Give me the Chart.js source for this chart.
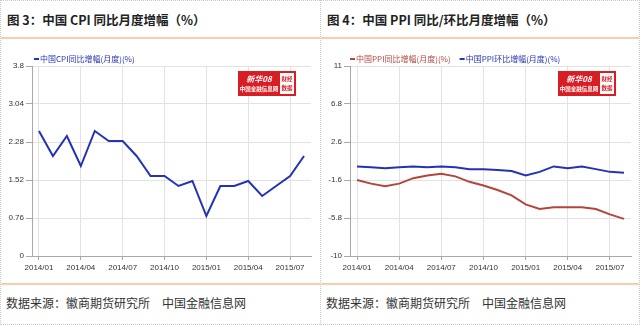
<!DOCTYPE html>
<html>
<head>
<meta charset="utf-8">
<script src="https://cdn.jsdelivr.net/npm/chart.js@4.4.1/dist/chart.umd.min.js"></script>
<style>
  html, body { margin: 0; padding: 0; background: #fff; }
  body { width: 640px; height: 325px; position: relative; overflow: hidden;
         font-family: "Noto Sans CJK SC", "Noto Sans", sans-serif; }
  .panel { position: absolute; top: 0; width: 320px; height: 325px;
           box-sizing: border-box; border: 1px dotted #c9c9c9; }
  #p1 { left: 0; border-right: none; }
  #p2 { left: 320px; }
  .title { position: absolute; left: 6px; top: 11px; font-size: 12.5px; font-weight: bold;
           color: #222; line-height: 16px; white-space: nowrap; }
  .rule { position: absolute; left: 0; right: 0; height: 2px; background: #f8cdaa; }
  .rule.top { top: 36px; }
  .rule.bottom { top: 282px; }
  .src { position: absolute; left: 5px; top: 294px; font-size: 12px; color: #333;
         line-height: 16px; white-space: nowrap; }
  canvas { position: absolute; left: 0; top: 39px; }
</style>
</head>
<body>
<div class="panel" id="p1">
  <div class="title">图 3：中国 CPI 同比月度增幅（%）</div>
  <div class="rule top"></div>
  <canvas id="c1" width="319" height="243"></canvas>
  <div class="rule bottom"></div>
  <div class="src">数据来源：徽商期货研究所　中国金融信息网</div>
</div>
<div class="panel" id="p2">
  <div class="title">图 4：中国 PPI 同比/环比月度增幅（%）</div>
  <div class="rule top"></div>
  <canvas id="c2" width="319" height="243"></canvas>
  <div class="rule bottom"></div>
  <div class="src">数据来源：徽商期货研究所　中国金融信息网</div>
</div>
<script>
// Monthly categories, 2014/01 – 2015/08
const months = ['2014/01','2014/02','2014/03','2014/04','2014/05','2014/06','2014/07','2014/08',
  '2014/09','2014/10','2014/11','2014/12','2015/01','2015/02','2015/03','2015/04',
  '2015/05','2015/06','2015/07','2015/08'];

// CPI year-on-year (%)
const cpiYoY = [2.5,2.0,2.4,1.8,2.5,2.3,2.3,2.0,1.6,1.6,1.4,1.5,0.8,1.4,1.4,1.5,1.2,1.4,1.6,2.0];

// PPI year-on-year and month-on-month (%)
const ppiYoY = [-1.6,-2.0,-2.3,-2.0,-1.4,-1.1,-0.9,-1.2,-1.8,-2.2,-2.7,-3.3,-4.3,-4.8,-4.6,-4.6,-4.6,-4.8,-5.4,-5.9];
const ppiMoM = [-0.1,-0.2,-0.3,-0.2,-0.1,-0.2,-0.1,-0.2,-0.4,-0.4,-0.5,-0.6,-1.1,-0.7,-0.1,-0.3,-0.1,-0.4,-0.7,-0.8];

// Value-axis tick labels
const cpiTicks = [0, 0.76, 1.52, 2.28, 3.04, 3.8];
const ppiTicks = [-10, -5.8, -1.6, 2.6, 6.8, 11];

const CPI_LABEL = '中国CPI同比增幅(月度)(%)';
const PPI_YOY_LABEL = '中国PPI同比增幅(月度)(%)';
const PPI_MOM_LABEL = '中国PPI环比增幅(月度)(%)';

const BLUE = '#2433b4';
const RED = '#b4453c';
const GRID = '#e2e2e2';
const AXIS = '#a8a8a8';
const TICKFONT = { family: 'Liberation Sans', size: 8 };

// Small line-marker legend drawn at the top-left of each chart
const miniLegend = {
  id: 'miniLegend',
  afterDraw(chart, args, opts) {
    const ctx = chart.ctx;
    ctx.save();
    ctx.font = '8px "Noto Sans CJK SC"';
    ctx.textBaseline = 'middle';
    let x = opts.x;
    chart.data.datasets.forEach(ds => {
      ctx.fillStyle = ds.borderColor;
      ctx.fillRect(x, opts.y - 1, 5, 2);
      ctx.fillText(ds.label, x + 6, opts.y);
      x += 6 + ctx.measureText(ds.label).width + 9;
    });
    ctx.restore();
  }
};

// Publisher badge in the upper-right corner of the plot area
const badge = {
  id: 'badge',
  beforeDatasetsDraw(chart) {
    const ctx = chart.ctx;
    const a = chart.chartArea;
    const x = a.right - 73, y = a.top + 5, w = 58, h = 25;
    ctx.save();
    ctx.fillStyle = '#d81e25';
    ctx.fillRect(x, y, w, h);
    ctx.fillStyle = '#fff';
    ctx.fillRect(x + 42, y + 2, 14, h - 4);
    ctx.textAlign = 'center';
    ctx.textBaseline = 'middle';
    ctx.fillStyle = '#fff';
    ctx.font = 'italic bold 8px "Noto Sans CJK SC"';
    ctx.fillText('新华08', x + 21, y + 8);
    ctx.font = 'bold 5.5px "Noto Sans CJK SC"';
    ctx.fillText('中国金融信息网', x + 21, y + 18);
    ctx.fillStyle = '#d81e25';
    ctx.font = 'bold 5.5px "Noto Sans CJK SC"';
    ctx.fillText('财经', x + 49, y + 8);
    ctx.fillText('数据', x + 49, y + 17);
    ctx.restore();
  }
};

function makeChart(id, datasets, ticks, yWidth, legendX) {
  return new Chart(document.getElementById(id), {
    type: 'line',
    data: { labels: months, datasets },
    plugins: [miniLegend, badge],
    options: {
      responsive: false,
      animation: false,
      layout: { padding: { top: 26, right: 9, bottom: 7, left: 0 } },
      elements: {
        line: { borderWidth: 2, tension: 0 },
        point: { radius: 0, hoverRadius: 0 }
      },
      plugins: {
        legend: { display: false },
        tooltip: { enabled: false },
        miniLegend: { x: legendX, y: 19 }
      },
      scales: {
        x: {
          offset: true,
          grid: {
            offset: false,
            color: c => (c.index % 3 === 0 ? GRID : 'rgba(0,0,0,0)'),
            tickColor: c => (c.index % 3 === 0 ? AXIS : 'rgba(0,0,0,0)'),
            tickLength: 4
          },
          border: { color: AXIS, width: 1 },
          ticks: {
            autoSkip: false, maxRotation: 0, minRotation: 0, padding: 3,
            font: TICKFONT, color: '#333',
            callback: (v, i) => (i % 3 === 0 ? months[i] : '')
          },
          afterFit: s => { s.height = 20; }
        },
        y: {
          min: ticks[0],
          max: ticks[ticks.length - 1],
          afterBuildTicks: s => { s.ticks = ticks.map(v => ({ value: v })); },
          grid: { color: GRID, tickColor: AXIS, tickLength: 6 },
          border: { color: AXIS, width: 1 },
          ticks: { padding: 2, font: TICKFONT, color: '#333', callback: v => String(v) },
          afterFit: s => { s.width = yWidth; }
        }
      }
    }
  });
}

makeChart('c1', [
  { label: CPI_LABEL, data: cpiYoY, borderColor: BLUE, backgroundColor: BLUE }
], cpiTicks, 31, 33);

makeChart('c2', [
  { label: PPI_YOY_LABEL, data: ppiYoY, borderColor: RED, backgroundColor: RED },
  { label: PPI_MOM_LABEL, data: ppiMoM, borderColor: BLUE, backgroundColor: BLUE }
], ppiTicks, 29, 29);
</script>
</body>
</html>
